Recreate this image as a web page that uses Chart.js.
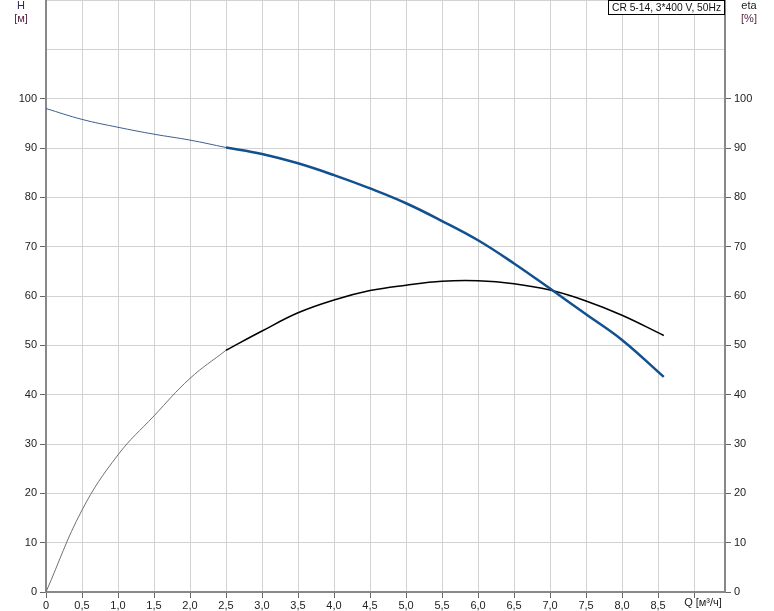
<!DOCTYPE html>
<html>
<head>
<meta charset="utf-8">
<script src="https://cdn.jsdelivr.net/npm/chart.js@4/dist/chart.umd.min.js"></script>
<style>
  html, body { margin: 0; padding: 0; background: #fff; }
  #wrap { width: 774px; height: 611px; }
</style>
</head>
<body>
<div id="wrap"><canvas id="pumpChart" width="774" height="611"></canvas></div>
<script>
// flow Q [m3/h]
const flowThin = [0, 0.5, 1.0, 1.5, 2.0, 2.5];
const flowThick = [2.5, 3.0, 3.5, 4.0, 4.5, 5.0, 5.5, 6.0, 6.5, 7.0, 7.5, 8.0, 8.58];
// head H [m]
const headThin = [98.0, 95.8, 94.2, 92.8, 91.6, 90.1];
const headThick = [90.1, 88.8, 86.9, 84.5, 81.8, 78.8, 75.2, 71.3, 66.6, 61.5, 56.3, 51.1, 43.6];
// efficiency eta [%]
const etaThin = [0, 16.6, 27.8, 35.7, 43.3, 49.0];
const etaThick = [49.0, 52.9, 56.6, 59.2, 61.1, 62.2, 63.0, 63.1, 62.5, 61.2, 59.0, 56.1, 52.0];

const pumpName = 'CR 5-14, 3*400 V, 50Hz';
const font = 'Liberation Sans, Arial, sans-serif';

function pts(xs, ys) {
    return xs.map((x, i) => ({ x: x, y: ys[i] }));
}

function fmtQ(v) {
    return v === 0 ? '0' : v.toFixed(1).replace('.', ',');
}

// hide tick marks above 100 (grid lines stay)
const tickCol = c => (c.tick && c.tick.value > 100 ? 'rgba(0,0,0,0)' : '#666');

const labelsPlugin = {
    id: 'labels',
    afterDraw(chart) {
        const ctx = chart.ctx;
        ctx.save();
        ctx.font = '11px ' + font;
        ctx.textBaseline = 'middle';
        ctx.textAlign = 'center';
        ctx.fillStyle = '#2a2a5a';
        ctx.fillText('H', 21, 6);
        ctx.fillStyle = '#5a2448';
        ctx.fillText('[м]', 21, 19);
        ctx.fillStyle = '#222';
        ctx.fillText('eta', 749, 6);
        ctx.fillStyle = '#5a2448';
        ctx.fillText('[%]', 749, 19);

        // x axis title
        ctx.fillStyle = '#222';
        ctx.fillText('Q [м³/ч]', 703, 603);

        // pump box
        ctx.fillStyle = '#fff';
        ctx.fillRect(608, 0, 117, 15);
        ctx.strokeStyle = '#000';
        ctx.lineWidth = 1;
        ctx.strokeRect(608.5, 0.5, 116, 14);
        ctx.fillStyle = '#111';
        ctx.textAlign = 'left';
        let size = 11;
        ctx.font = size + 'px ' + font;
        while (ctx.measureText(pumpName).width > 111 && size > 8) {
            size -= 0.25;
            ctx.font = size + 'px ' + font;
        }
        ctx.fillText(pumpName, 612, 8);
        ctx.restore();
    }
};

new Chart(document.getElementById('pumpChart'), {
    type: 'line',
    data: {
        datasets: [
            {
                data: pts(flowThin, headThin),
                borderColor: '#3d5f8e',
                borderWidth: 1,
                yAxisID: 'y'
            },
            {
                data: pts(flowThick, headThick),
                borderColor: '#12508f',
                borderWidth: 2.5,
                yAxisID: 'y'
            },
            {
                data: pts(flowThin, etaThin),
                borderColor: '#707070',
                borderWidth: 1,
                yAxisID: 'y2'
            },
            {
                data: pts(flowThick, etaThick),
                borderColor: '#000',
                borderWidth: 1.5,
                yAxisID: 'y2'
            }
        ]
    },
    options: {
        responsive: false,
        animation: false,
        layout: { padding: 0 },
        elements: {
            point: { radius: 0 },
            line: { tension: 0.4, fill: false }
        },
        plugins: {
            legend: { display: false },
            tooltip: { enabled: false }
        },
        scales: {
            x: {
                type: 'linear',
                min: 0,
                max: 9.43,
                border: { color: '#888', width: 2 },
                grid: { color: '#d2d2d2', lineWidth: 1, tickColor: '#666', tickLength: 6 },
                ticks: {
                    stepSize: 0.5,
                    includeBounds: false,
                    maxRotation: 0,
                    autoSkip: false,
                    padding: 1,
                    color: '#222',
                    font: { family: font, size: 11 },
                    callback: v => (v > 8.6 ? '' : fmtQ(v))
                },
                afterFit(scale) {
                    scale.height = 19;
                    scale.paddingLeft = 0;
                    scale.paddingRight = 0;
                }
            },
            y: {
                position: 'left',
                min: 0,
                max: 120,
                border: { color: '#888', width: 2 },
                grid: { color: '#d2d2d2', lineWidth: 1, tickColor: tickCol, tickLength: 6 },
                ticks: {
                    stepSize: 10,
                    padding: 3,
                    color: '#222',
                    font: { family: font, size: 11 },
                    callback: v => (v > 100 ? '' : String(v))
                },
                afterFit(scale) {
                    scale.width = 46;
                    scale.paddingTop = 0;
                    scale.paddingBottom = 0;
                }
            },
            y2: {
                position: 'right',
                min: 0,
                max: 120,
                border: { color: '#888', width: 2 },
                grid: { drawOnChartArea: false, tickColor: tickCol, tickLength: 6 },
                ticks: {
                    stepSize: 10,
                    padding: 3,
                    color: '#222',
                    font: { family: font, size: 11 },
                    callback: v => (v > 100 ? '' : String(v))
                },
                afterFit(scale) {
                    scale.width = 49;
                    scale.paddingTop = 0;
                    scale.paddingBottom = 0;
                }
            }
        }
    },
    plugins: [labelsPlugin]
});
</script>
</body>
</html>
